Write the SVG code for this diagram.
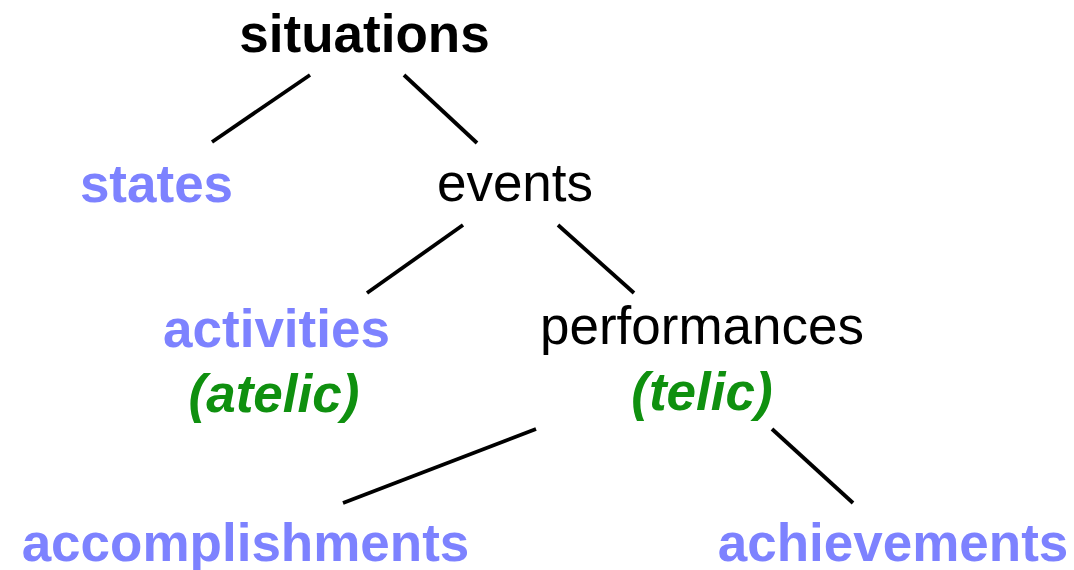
<svg xmlns="http://www.w3.org/2000/svg" width="1074" height="570" viewBox="0 0 1074 570">
  <style>
    text { font-family: "Liberation Sans", Arial, Helvetica, sans-serif; font-size: 53px; text-anchor: middle; }
    .root { font-weight: bold; fill: #000; }
    .mid { fill: #000; }
    .leaf { font-weight: bold; fill: #7D82FF; }
    .aspect { font-weight: bold; font-style: italic; fill: #0F900F; }
    .edge { stroke: #000; stroke-width: 3.8; fill: none; }
  </style>
  <rect width="1074" height="570" fill="#fff"/>
  <g id="connectors">
    <line class="edge" x1="310" y1="75" x2="212" y2="142"/>
    <line class="edge" x1="404" y1="75" x2="477" y2="143"/>
    <line class="edge" x1="463" y1="225" x2="367" y2="293"/>
    <line class="edge" x1="558" y1="225" x2="634" y2="293"/>
    <line class="edge" x1="536" y1="429" x2="343" y2="503"/>
    <line class="edge" x1="772" y1="429" x2="853" y2="503"/>
  </g>
  <g id="situations"><text class="root" x="364.5" y="52">situations</text></g>
  <g id="states"><text class="leaf" x="156.5" y="202">states</text></g>
  <g id="events"><text class="mid" x="515" y="201">events</text></g>
  <g id="activities">
    <text class="leaf" x="276.5" y="347">activities</text>
    <text class="aspect" x="274" y="412">(atelic)</text>
  </g>
  <g id="performances">
    <text class="mid" x="702" y="344">performances</text>
    <text class="aspect" x="702" y="410">(telic)</text>
  </g>
  <g id="accomplishments"><text class="leaf" x="245.5" y="561">accomplishments</text></g>
  <g id="achievements"><text class="leaf" x="893" y="561">achievements</text></g>
</svg>
